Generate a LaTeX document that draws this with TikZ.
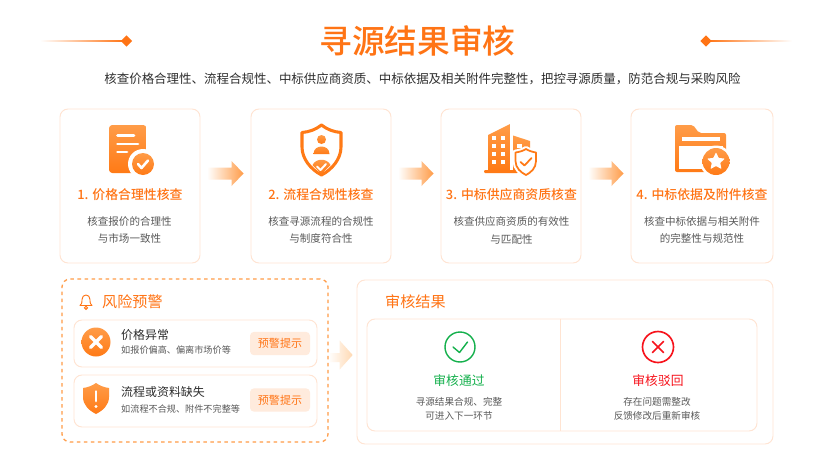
\documentclass[tikz,border=0pt]{standalone}
\usepackage{fontspec}
\setmainfont{Noto Sans CJK SC}
\newfontfamily\medfont{Noto Sans CJK SC Medium}
\usetikzlibrary{calc,shapes.geometric}
\definecolor{mainorange}{HTML}{FF7415}
\definecolor{iconlight}{HTML}{FF9C48}
\definecolor{icondark}{HTML}{FF7A16}
\definecolor{cardline}{HTML}{FFE4D2}
\definecolor{badgefill}{HTML}{FFEBDD}
\definecolor{darktext}{HTML}{2E2E2E}
\definecolor{greytext}{HTML}{595959}
\definecolor{passgreen}{HTML}{14B04C}
\definecolor{rejectred}{HTML}{F7131C}
\tikzset{
  cardbox/.style={draw=cardline,line width=0.8pt,fill=white,rounded corners=2.4mm,inner sep=0pt},
  stepcard/.style={cardbox,minimum width=4.2cm,minimum height=4.62cm},
  rowcard/.style={cardbox,minimum width=7.29cm},
  badgebox/.style={fill=badgefill,rounded corners=1.2mm,inner sep=0pt,minimum width=1.8cm,minimum height=0.7cm,text=mainorange,font=\fontsize{9.4}{11}\selectfont},
  steptitle/.style={text=mainorange,font=\fontsize{11}{13}\medfont,inner sep=0pt},
  stepdesc/.style={text=greytext,font=\fontsize{9}{15.3}\selectfont,align=center,inner sep=0pt},
  rowtitle/.style={text=darktext,anchor=west,font=\fontsize{10.2}{12}\selectfont,inner sep=0pt},
  rowdesc/.style={text=greytext,anchor=west,font=\fontsize{7.8}{9}\selectfont,inner sep=0pt},
  blocktitle/.style={text=mainorange,anchor=west,font=\fontsize{12.9}{15}\selectfont,inner sep=0pt},
  resultdesc/.style={text=greytext,font=\fontsize{8.2}{12.3}\selectfont,align=center,inner sep=0pt},
  iconfill/.style={top color=iconlight,bottom color=icondark},
  flowshade/.style={left color=orange!3!white,right color=iconlight},
}
\newcommand{\flowarrow}[2]{
  \path[flowshade] ($(#1.east)+(8,-18.5)$) -- ($(#2.west)+(-19,-18.5)$) -- ($(#2.west)+(-19,-25)$)
    -- ($(#2.west)+(-7,-12.5)$) -- ($(#2.west)+(-19,0)$) -- ($(#2.west)+(-19,-6.5)$) -- ($(#1.east)+(8,-6.5)$) -- cycle;
}
\begin{document}
\begin{tikzpicture}[x=0.03cm,y=-0.03cm]
  \fill[fill=white] (0,0) rectangle (836,471);
  % title
  \path[left color=white,right color=mainorange] (40,40.2) rectangle (124,41.8);
  \path[left color=mainorange,right color=white] (708,40.2) rectangle (792,41.8);
  \node[diamond,fill=mainorange,inner sep=0pt,minimum size=0.34cm] (markl) at (126.5,41) {};
  \node[diamond,fill=mainorange,inner sep=0pt,minimum size=0.34cm] (markr) at (706,41) {};
  \node[text=mainorange,inner sep=0pt,font=\fontsize{27.9}{32}\medfont] (title) at (417.5,41) {寻源结果审核};
  \node[text=darktext,inner sep=0pt,font=\fontsize{10.65}{13}\selectfont] (subtitle) at (422.5,78.5) {核查价格合理性、流程合规性、中标供应商资质、中标依据及相关附件完整性^^^^ff0c把控寻源质量^^^^ff0c防范合规与采购风险};

  % step cards
  \node[stepcard] (card1) at (130,186) {};
  \node[stepcard] (card2) at (321,186) {};
  \node[stepcard] (card3) at (511,186) {};
  \node[stepcard,minimum width=4.26cm] (card4) at (702,186) {};
  \flowarrow{card1}{card2}
  \flowarrow{card2}{card3}
  \flowarrow{card3}{card4}

  \node[steptitle] (title1) at (130,195) {1. 价格合理性核查};
  \node[steptitle] (title2) at (321,195) {2. 流程合规性核查};
  \node[steptitle] (title3) at (511.5,195) {3. 中标供应商资质核查};
  \node[steptitle] (title4) at (702,195) {4. 中标依据及附件核查};
  \node[stepdesc] (desc1) at (129.5,230) {核查报价的合理性\\与市场一致性};
  \node[stepdesc] (desc2) at (321,230) {核查寻源流程的合规性\\与制度符合性};
  \node[stepdesc] (desc3) at (511.5,230) {核查供应商资质的有效性\\与匹配性};
  \node[stepdesc] (desc4) at (702,230) {核查中标依据与相关附件\\的完整性与规范性};

  % icon 1
  \path[iconfill,rounded corners=1mm] (109,125) rectangle (146.5,173);
  \draw[white,line width=2.5pt,line cap=round] (117.5,135.5) -- (134,135.5);
  \draw[white,line width=2.5pt,line cap=round] (117.5,144) -- (138,144);
  \draw[white,line width=2.5pt,line cap=round] (117.5,152) -- (127,152);
  \fill[white] (143,164) circle [radius=15];
  \path[iconfill] (143,164) circle [radius=11];
  \draw[white,line width=2.2pt,line cap=round,line join=round] (138,164) -- (141.5,168) -- (148,160.5);

  % icon 2
  \draw[icondark,line width=2.6pt,line join=round,fill=white] (321.5,125) .. controls (327,129.5) and (334,132) .. (341,132.5) -- (341,147)
    .. controls (341,159) and (332,169.5) .. (321.5,175) .. controls (311,169.5) and (302,159) .. (302,147) -- (302,132.5) .. controls (309,132) and (316,129.5) .. (321.5,125) -- cycle;
  \path[iconfill] (321.5,139.5) circle [radius=4.5];
  \path[iconfill] (313.5,154) .. controls (313.5,144) and (329.5,144) .. (329.5,154) -- cycle;
  \path[iconfill] (312.5,165) .. controls (316,158) and (327,158) .. (330.5,165) -- (321.5,174) -- cycle;
  \draw[white,line width=1.7pt,line cap=round,line join=round] (317,166.5) -- (320.5,170) -- (326,164);

  % icon 3
  \path[iconfill] (488,135) -- (510,124) -- (510,171) -- (488,171) -- cycle;
  \path[iconfill] (513,135.5) -- (530,141) -- (530,171) -- (513,171) -- cycle;
  \path[fill=icondark,rounded corners=0.3mm] (484,170) rectangle (518,173);
  \foreach \wy in {138,146,154,162} {
    \fill[white] (491.5,\wy-2.2) rectangle +(4.5,4.4);
    \fill[white] (500.5,\wy-2.2) rectangle +(4.5,4.4);
  }
  \fill[white] (517,144) rectangle +(4.5,4.4);
  \draw[white,line width=5pt,line join=round] (526,149) .. controls (529,151) and (533,152) .. (536,152.5) -- (536,161)
    .. controls (536,168) and (531,172.5) .. (526,175) .. controls (521,172.5) and (515.5,168) .. (515.5,161) -- (515.5,152.5) .. controls (519,152) and (523,151) .. (526,149) -- cycle;
  \draw[icondark,line width=1.5pt,line join=round,fill=white] (526,149) .. controls (529,151) and (533,152) .. (536,152.5) -- (536,161)
    .. controls (536,168) and (531,172.5) .. (526,175) .. controls (521,172.5) and (515.5,168) .. (515.5,161) -- (515.5,152.5) .. controls (519,152) and (523,151) .. (526,149) -- cycle;
  \draw[icondark,line width=1.5pt,line cap=round,line join=round] (520.5,162) -- (524.5,165.5) -- (531.5,158);

  % icon 4
  \path[iconfill,rounded corners=0.6mm] (675,125) -- (693,125) -- (699,133) -- (726,133) -- (726,172) -- (675,172) -- cycle;
  \fill[white] (682,136.5) rectangle (719.5,141);
  \fill[white] (678.5,146) rectangle (722.5,168.5);
  \fill[white] (716,161.5) circle [radius=16];
  \path[iconfill] (716,161.5) circle [radius=13.5];
  \node[star,star points=5,star point ratio=2.1,fill=white,inner sep=0pt,minimum size=0.56cm,rounded corners=0.2mm] (star4) at (716,161.5) {};

  % risk block
  \node[draw=iconlight,line width=1.1pt,dashed,fill=white,rounded corners=2.4mm,inner sep=0pt,minimum width=7.98cm,minimum height=4.89cm] (risk) at (195,360.5) {};
  \draw[mainorange,line width=0.8pt,line join=round] (80,305.5) .. controls (82.5,303) and (82,301) .. (82,299.5) .. controls (82,293.5) and (90,293.5) .. (90,299.5) .. controls (90,301) and (89.5,303) .. (92,305.5) -- cycle;
  \draw[mainorange,line width=0.8pt] (86,307.8) circle [radius=1.6];
  \node[blocktitle] (risktitle) at (102,302) {风险预警};
  \node[rowcard,minimum height=1.41cm] (row1) at (195.5,343.5) {};
  \node[rowcard,minimum height=1.56cm] (row2) at (195.5,401) {};
  \path[iconfill] (96,342) circle [radius=14.5];
  \draw[white,line width=2.8pt,line cap=round] (90.5,336.5) -- (101.5,347.5);
  \draw[white,line width=2.8pt,line cap=round] (101.5,336.5) -- (90.5,347.5);
  \path[iconfill] (96,383) .. controls (100,386) and (105,387.5) .. (109,388) -- (109,397) .. controls (109,405) and (103,410.5) .. (96,414) .. controls (89,410.5) and (83,405) .. (83,397) -- (83,388) .. controls (87,387.5) and (92,386) .. (96,383) -- cycle;
  \draw[white,line width=2.5pt,line cap=round] (96,391.5) -- (96,401);
  \fill[white] (96,406.5) circle [radius=1.7];
  \node[rowtitle] (rowtitle1) at (121,335) {价格异常};
  \node[rowdesc] (rowdesc1) at (121,350.5) {如报价偏高、偏离市场价等};
  \node[rowtitle] (rowtitle2) at (121,392) {流程或资料缺失};
  \node[rowdesc] (rowdesc2) at (121,409) {如流程不合规、附件不完整等};
  \node[badgebox] (badge1) at (280,343.5) {预警提示};
  \node[badgebox] (badge2) at (280,400) {预警提示};

  % result block
  \node[cardbox,minimum width=12.48cm,minimum height=4.92cm] (result) at (565,362) {};
  \path[left color=orange!3!white,right color=orange!30!white] ($(risk.east)+(2,-7.5)$) -- ($(risk.east)+(11,-7.5)$) -- ($(risk.east)+(11,-20)$)
    -- ($(risk.east)+(24,-5.5)$) -- ($(risk.east)+(11,9)$) -- ($(risk.east)+(11,1.5)$) -- ($(risk.east)+(2,1.5)$) -- cycle;
  \node[blocktitle] (resulttitle) at (385,302) {审核结果};
  \node[cardbox,minimum width=11.7cm,minimum height=3.36cm] (resultin) at (562,375) {};
  \draw[draw=cardline,line width=0.8pt] (resultin.north) ++(-2,0) -- ($(resultin.south)+(-2,0)$);
  \draw[passgreen,line width=1.2pt] (460,347) circle [radius=15];
  \draw[passgreen,line width=1.2pt,line cap=round,line join=round] (453,347) -- (459.5,352.5) -- (467.5,342);
  \draw[rejectred,line width=1.4pt] (658,347) circle [radius=15.5];
  \draw[rejectred,line width=1.4pt,line cap=round] (652.5,341.5) -- (663.5,352.5);
  \draw[rejectred,line width=1.4pt,line cap=round] (663.5,341.5) -- (652.5,352.5);
  \node[text=passgreen,inner sep=0pt,font=\fontsize{10.9}{13}\selectfont] (passtitle) at (459,381) {审核通过};
  \node[text=rejectred,inner sep=0pt,font=\fontsize{10.9}{13}\selectfont] (rejecttitle) at (658,381) {审核驳回};
  \node[resultdesc] (passdesc) at (459,409) {寻源结果合规、完整\\可进入下一环节};
  \node[resultdesc] (rejectdesc) at (657,409) {存在问题需整改\\反馈修改后重新审核};
\end{tikzpicture}
\end{document}
